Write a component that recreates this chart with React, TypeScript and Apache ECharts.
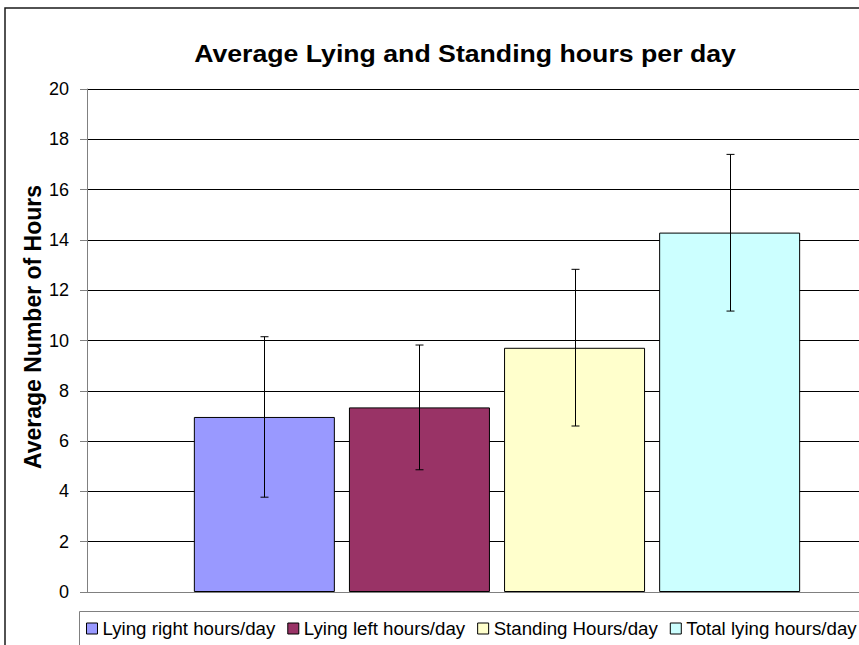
import React, { useEffect, useRef } from "react";
import * as echarts from "echarts";

const CATEGORIES = ["All cows"];
const SERIES_NAMES = [
  "Lying right hours/day",
  "Lying left hours/day",
  "Standing Hours/day",
  "Total lying hours/day",
];
const MEANS = [6.96, 7.34, 9.71, 14.29];
const ERR_LOW = [3.77, 4.86, 6.6, 11.17];
const ERR_HIGH = [10.15, 9.82, 12.83, 17.4];
const COLORS = ["#9999FF", "#993366", "#FFFFCC", "#CCFFFF"];
const Y_MIN = 0;
const Y_MAX = 20;
const Y_INTERVAL = 2;
const TITLE = "Average Lying and Standing hours per day";
const Y_NAME = "Average Number of Hours";

const BAR_WIDTH = 141;
const BAR_GAP = 0.1;
const FONT = '"Liberation Sans", Arial, sans-serif';

export default function App() {
  const ref = useRef<HTMLDivElement>(null);
  useEffect(() => {
    if (!ref.current) return;
    const chart = echarts.init(ref.current, null, { renderer: "svg" });
    const n = SERIES_NAMES.length;
    const barSeries = SERIES_NAMES.map((name, i) => ({
      name,
      type: "bar",
      data: [MEANS[i]],
      barWidth: BAR_WIDTH,
      barGap: BAR_GAP * 100 + "%",
      itemStyle: { color: COLORS[i], borderColor: "#000", borderWidth: 1 },
      z: 2,
    }));
    const errData = SERIES_NAMES.map((_, i) => [0, ERR_LOW[i], ERR_HIGH[i], i]);
    const option: any = {
      animation: false,
      textStyle: { fontFamily: FONT },
      graphic: [
        {
          type: "rect",
          z: 0,
          shape: { x: 5, y: 8, width: 1000, height: 1000 },
          style: { fill: "#fff", stroke: "#1a1a1a", lineWidth: 1.5 },
          silent: true,
        },
        {
          type: "rect",
          z: 1,
          shape: { x: 79.5, y: 611.5, width: 900, height: 100 },
          style: { fill: "#fff", stroke: "#808080", lineWidth: 1 },
          silent: true,
        },
        {
          type: "text",
          z: 5,
          x: 465,
          y: 54,
          scaleX: 1.16,
          style: {
            text: TITLE,
            font: 'bold 23px "Liberation Sans", Arial, sans-serif',
            fill: "#000",
            align: "center",
            verticalAlign: "middle",
          },
        },
        {
          type: "text",
          z: 5,
          x: 33,
          y: 327,
          rotation: Math.PI / 2,
          style: {
            text: Y_NAME,
            font: 'bold 23px "Liberation Sans", Arial, sans-serif',
            fill: "#000",
            align: "center",
            verticalAlign: "middle",
          },
        },
      ],
      legend: {
        data: SERIES_NAMES,
        left: 86,
        top: 619,
        padding: 0,
        itemWidth: 11,
        itemHeight: 11,
        itemGap: 12,
        icon: "rect",
        itemStyle: { borderColor: "#000", borderWidth: 1 },
        textStyle: { fontSize: 18.7, fontFamily: FONT, color: "#000" },
        z: 6,
      },
      grid: {
        left: 87,
        top: 89,
        width: 820,
        height: 503,
        outerBoundsMode: "none",
        containLabel: false,
      },
      xAxis: {
        type: "category",
        data: CATEGORIES,
        axisLabel: { show: false },
        axisTick: { show: false },
        axisLine: { show: true, lineStyle: { color: "#808080", width: 1 } },
        splitLine: { show: false },
      },
      yAxis: {
        type: "value",
        min: Y_MIN,
        max: Y_MAX,
        interval: Y_INTERVAL,
        axisLine: { show: true, lineStyle: { color: "#808080", width: 1 } },
        axisTick: { show: true, length: 7, lineStyle: { color: "#808080" } },
        axisLabel: { fontSize: 18, fontFamily: FONT, color: "#000", margin: 18 },
        splitLine: { show: true, lineStyle: { color: "#000", width: 1 } },
      },
      series: [
        ...barSeries,
        {
          type: "custom",
          name: "error",
          data: errData,
          encode: { x: 0, y: [1, 2] },
          z: 5,
          silent: true,
          renderItem: (params: any, api: any) => {
            const cat = api.value(0);
            const lo = api.value(1);
            const hi = api.value(2);
            const idx = api.value(3);
            const p0 = api.coord([cat, lo]);
            const p1 = api.coord([cat, hi]);
            const step = BAR_WIDTH * (1 + BAR_GAP);
            const total = n * BAR_WIDTH + (n - 1) * BAR_WIDTH * BAR_GAP;
            const x = Math.round(p0[0] - total / 2 + BAR_WIDTH / 2 + idx * step) + 0.5;
            const style = { stroke: "#000", lineWidth: 1 };
            return {
              type: "group",
              children: [
                { type: "line", shape: { x1: x, y1: p0[1], x2: x, y2: p1[1] }, style },
                { type: "line", shape: { x1: x - 4, y1: p0[1], x2: x + 4, y2: p0[1] }, style },
                { type: "line", shape: { x1: x - 4, y1: p1[1], x2: x + 4, y2: p1[1] }, style },
              ],
            };
          },
        },
      ],
    };
    chart.setOption(option);
    return () => chart.dispose();
  }, []);
  return (
    <div
      ref={ref}
      style={{ position: "fixed", left: 0, top: 0, width: 859, height: 645, background: "#fff" }}
    />
  );
}
